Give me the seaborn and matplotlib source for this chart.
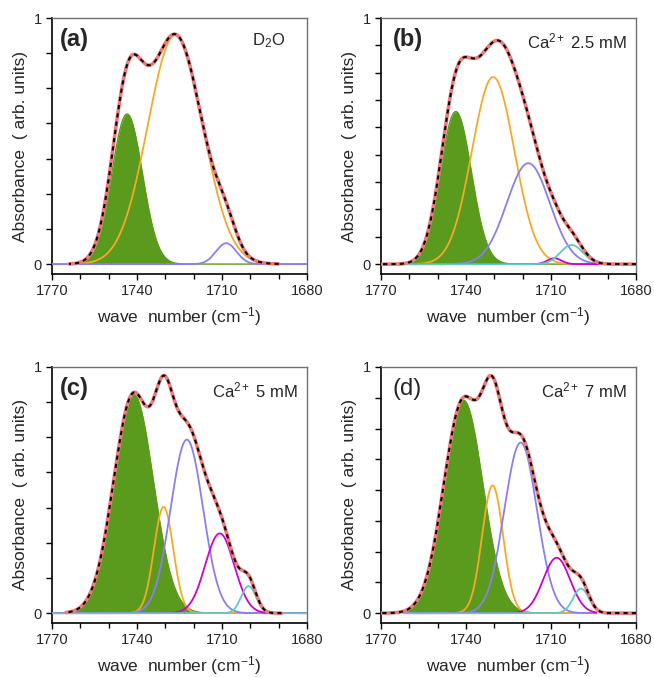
import numpy as np
import pandas as pd
import matplotlib
matplotlib.use("Agg")
import matplotlib.pyplot as plt
from matplotlib.ticker import MultipleLocator, FixedLocator, FixedFormatter
import seaborn as sns

sns.set_style("ticks")
plt.rcParams['font.family'] = ['Liberation Sans', 'DejaVu Sans']
plt.rcParams['mathtext.fontset'] = 'custom'
plt.rcParams['mathtext.rm'] = 'Liberation Sans'
plt.rcParams['mathtext.it'] = 'Liberation Sans:italic'
plt.rcParams['mathtext.bf'] = 'Liberation Sans:bold'

# ---------------- data ----------------
panel_letters = ["(a)", "(b)", "(c)", "(d)"]
panel_labels = ["D$_2$O", "Ca$^{2+}$ 2.5 mM", "Ca$^{2+}$ 5 mM", "Ca$^{2+}$ 7 mM"]
x_tick_values = [1770, 1740, 1710, 1680]
y_tick_divisions = [7, 9, 7, 8]

# band components per panel: centre (cm-1), height (norm.), width sigma (cm-1); None = absent
green_center = [1743.5, 1743.6, 1741.2, 1740.9]
green_height = [0.61, 0.62, 0.89, 0.865]
green_sigma = [5.4, 5.5, 7.0, 6.9]

orange_center = [1726.5, 1730.4, 1730.6, 1730.6]
orange_height = [0.93, 0.76, 0.432, 0.519]
orange_sigma = [9.7, 7.5, 3.4, 3.7]

blue_center = [1708.5, 1718.0, 1722.4, 1720.7]
blue_height = [0.085, 0.41, 0.705, 0.693]
blue_sigma = [3.6, 7.6, 5.7, 5.75]

magenta_center = [None, 1708.8, 1710.8, 1708.0]
magenta_height = [None, 0.024, 0.324, 0.225]
magenta_sigma = [None, 2.5, 5.1, 4.75]

cyan_center = [None, 1702.7, 1700.6, 1699.4]
cyan_height = [None, 0.078, 0.11, 0.10]
cyan_sigma = [None, 4.0, 2.6, 2.8]

# spectral range covered by the fitted components and by the measured spectrum
component_range = [(1680, 1770), (1680, 1770), (1680, 1770), (1694, 1762)]
spectrum_range = [(1690, 1764), (1680, 1770), (1689, 1765), (1680, 1770)]

colors = {"green": "#5a9a1c", "orange": "#f6a929", "blue": "#8a7ff0",
          "magenta": "#d000d0", "cyan": "#5fc9c9", "total": "#f07a7a"}

# ------------------------------------------------------------
def band(x, c, h, s):
    return h * np.exp(-(x - c) ** 2 / (2 * s ** 2))

fig = plt.figure(figsize=(6.54, 6.77), dpi=100)
W, H = 654, 677
boxes = [(52, 18), (381, 18), (52, 367), (381, 367)]
aw, ah = 255, 256

for i in range(4):
    left, top = boxes[i]
    ax = fig.add_axes([left / W, 1 - (top + ah) / H, aw / W, ah / H])
    lo, hi = component_range[i]
    xc = np.linspace(lo, hi, 700)
    comps = [
        ("green", green_center[i], green_height[i], green_sigma[i]),
        ("orange", orange_center[i], orange_height[i], orange_sigma[i]),
        ("blue", blue_center[i], blue_height[i], blue_sigma[i]),
        ("magenta", magenta_center[i], magenta_height[i], magenta_sigma[i]),
        ("cyan", cyan_center[i], cyan_height[i], cyan_sigma[i]),
    ]
    comps = [c for c in comps if c[1] is not None]

    # green filled band
    _, gc, gh, gs = comps[0]
    gy = band(xc, gc, gh, gs)
    ax.fill_between(xc, 0, gy, color=colors["green"], lw=0, zorder=1)
    sns.lineplot(x=xc, y=gy, ax=ax, color=colors["green"], lw=1.0, estimator=None, zorder=2)
    for name, c, h, s in comps[1:]:
        sns.lineplot(x=xc, y=band(xc, c, h, s), ax=ax, color=colors[name], lw=1.3,
                     estimator=None, zorder=3)

    tlo, thi = spectrum_range[i]
    xt = np.linspace(tlo, thi, 800)
    total = sum(band(xt, c, h, s) for _, c, h, s in comps)
    sns.lineplot(x=xt, y=total, ax=ax, color=colors["total"], lw=2.6, estimator=None, zorder=4)
    sns.lineplot(x=xt, y=total, ax=ax, color="black", lw=1.5, estimator=None, zorder=5)
    ax.lines[-1].set_dashes((2.0, 2.0))

    ax.set_xlim(1770, 1680)
    ax.set_ylim(-0.04, 1.0)
    ax.xaxis.set_major_locator(FixedLocator(x_tick_values))
    ax.xaxis.set_minor_locator(MultipleLocator(10))
    n = y_tick_divisions[i]
    yt = [k / n for k in range(n + 1)]
    ax.yaxis.set_major_locator(FixedLocator(yt))
    ax.yaxis.set_major_formatter(FixedFormatter(["0"] + [""] * (n - 1) + ["1"]))
    ax.tick_params(axis="both", which="major", direction="out", length=4.5, width=1.0,
                   labelsize=10.5, color="black", pad=3)
    ax.tick_params(axis="x", which="minor", direction="out", length=3.5, width=1.0, color="black")
    for sp in ["left", "bottom"]:
        ax.spines[sp].set_color("black")
        ax.spines[sp].set_linewidth(1.2)
    for sp in ["top", "right"]:
        ax.spines[sp].set_color("#707070")
        ax.spines[sp].set_linewidth(1.0)
        ax.spines[sp].set_visible(True)

    ax.set_xlabel("wave  number (cm$^{-1}$)", fontsize=12.5, labelpad=5)
    ax.set_ylabel("Absorbance  ( arb. units)", fontsize=12.5, labelpad=4)
    ax.text(0.03 if i in (0, 2) else 0.045, 0.915, panel_letters[i], transform=ax.transAxes,
            fontsize=17, fontweight=("normal" if i == 3 else "bold"), va="center", ha="left")
    ax.text(0.965 if i != 0 else 0.915, 0.91, panel_labels[i], transform=ax.transAxes,
            fontsize=12, va="center", ha="right")

fig.savefig("out.png", dpi=100, facecolor="white")
